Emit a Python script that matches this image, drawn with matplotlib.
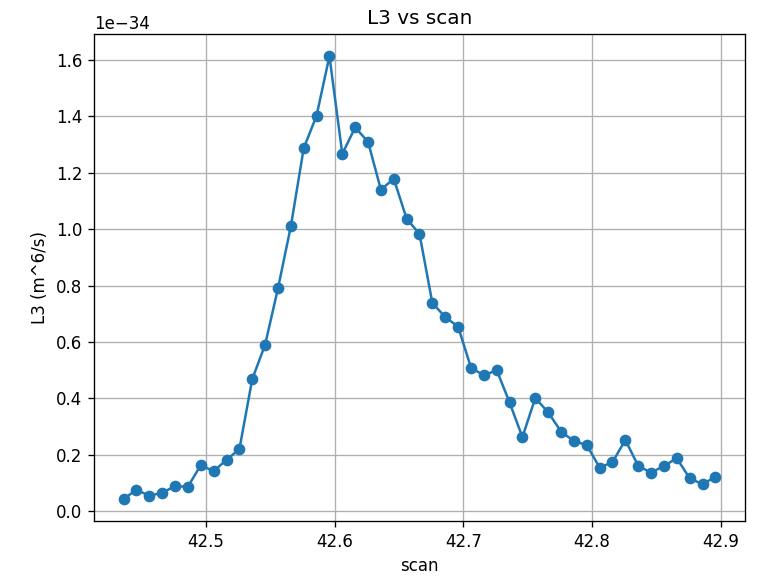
import numpy as np
import matplotlib
matplotlib.use("Agg")
import matplotlib.pyplot as plt

scan_start = 42.436
scan_step = 0.01
l3_values = [0.043, 0.075, 0.054, 0.065, 0.088, 0.086, 0.163, 0.141, 0.182, 0.219,
             0.468, 0.590, 0.790, 1.010, 1.287, 1.403, 1.614, 1.267, 1.361, 1.310,
             1.140, 1.179, 1.037, 0.983, 0.738, 0.688, 0.654, 0.509, 0.481, 0.500,
             0.385, 0.262, 0.401, 0.350, 0.282, 0.248, 0.234, 0.154, 0.173, 0.252,
             0.160, 0.136, 0.160, 0.187, 0.116, 0.095, 0.121]
scale = 1e-34

scan = scan_start + scan_step * np.arange(len(l3_values))
l3 = np.array(l3_values) * scale

W, H, DPI = 761, 577, 120
fig = plt.figure(figsize=(W / DPI, H / DPI), dpi=DPI)
ax = fig.add_axes([94 / W, 1 - 521 / H, (745 - 94) / W, (521 - 34) / H])
ax.plot(scan, l3, marker='o', color='#1f77b4')
ax.set_title("L3 vs scan")
ax.set_xlabel("scan")
ax.set_ylabel("L3 (m^6/s)")
ax.grid(True)
fig.savefig("out.png", dpi=DPI)
